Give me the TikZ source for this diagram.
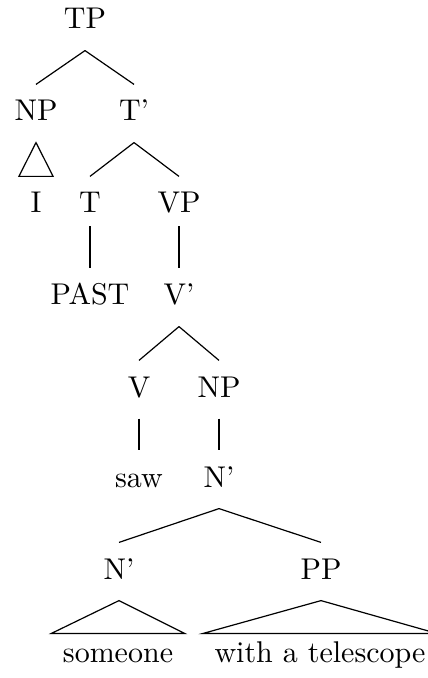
\documentclass[tikz,border=0pt]{standalone}
\begin{document}
\begin{tikzpicture}[x=0.3333pt,y=-0.3333pt,font=\normalsize]
    \tikzstyle{cat}=[anchor=base,inner ysep=0pt,inner xsep=3.7pt,text height=12pt,text depth=7pt]
    \tikzstyle{leaf}=[cat,text height=9.3pt]
    \useasboundingbox (0,0) rectangle (427,678);

    \node[cat] (tp) at (85,29) {TP};
    \node[cat] (np1) at (36,121) {NP};
    \node[cat] (tbar) at (134,121) {T'};
    \node[cat] (i) at (36,213) {I};
    \node[cat] (t) at (90,213) {T};
    \node[cat] (vp) at (179,213) {VP};
    \node[cat] (past) at (90,305) {PAST};
    \node[cat] (vbar) at (179,305) {V'};
    \node[cat] (v) at (139,397) {V};
    \node[cat] (np2) at (219,397) {NP};
    \node[cat] (saw) at (139,487) {saw};
    \node[cat] (nbar1) at (219,487) {N'};
    \node[cat] (nbar2) at (119,579) {N'};
    \node[cat] (pp) at (321,579) {PP};
    \node[leaf] (someone) at (118,662) {someone};
    \node[leaf] (telescope) at (320,662) {with a telescope};

    \draw (tp.south) -- (np1.north);
    \draw (tp.south) -- (tbar.north);
    \draw (np1.south) -- (i.north west) -- (i.north east) -- cycle;
    \draw (tbar.south) -- (t.north);
    \draw (tbar.south) -- (vp.north);
    \draw ([yshift=2.7pt]t.south) -- (past.north);
    \draw ([yshift=2.7pt]vp.south) -- (vbar.north);
    \draw (vbar.south) -- (v.north);
    \draw (vbar.south) -- (np2.north);
    \draw (v.south) -- (saw.north);
    \draw (np2.south) -- (nbar1.north);
    \draw (nbar1.south) -- (nbar2.north);
    \draw (nbar1.south) -- (pp.north);
    \draw (nbar2.south) -- (someone.north west) -- (someone.north east) -- cycle;
    \draw (pp.south) -- (telescope.north west) -- (telescope.north east) -- cycle;
\end{tikzpicture}
\end{document}
